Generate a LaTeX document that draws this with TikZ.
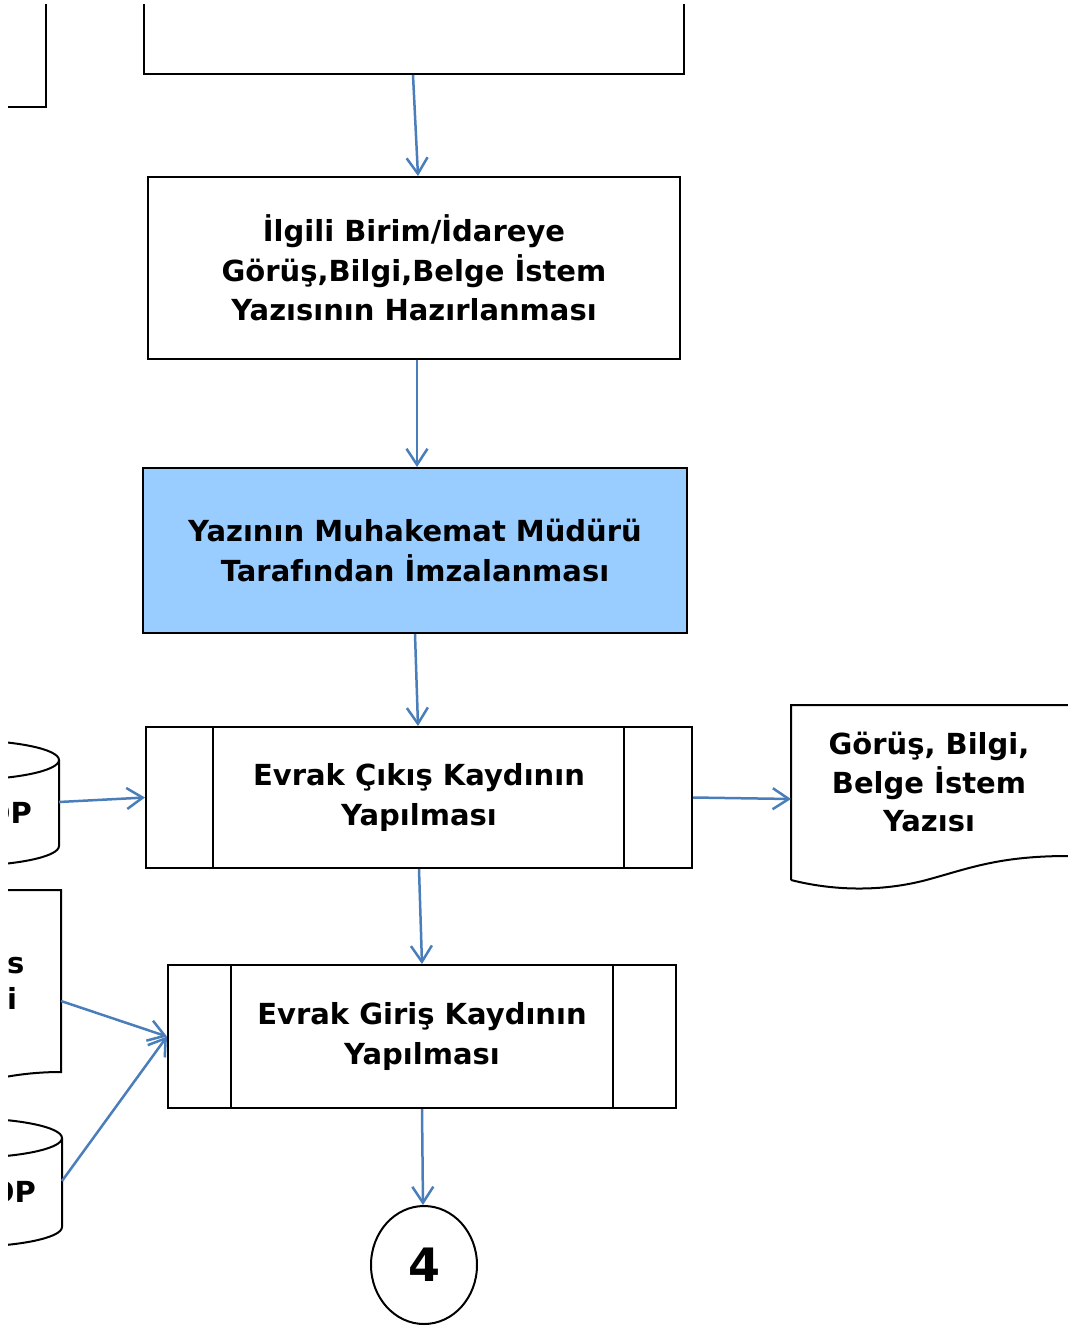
\documentclass[tikz,border=0pt]{standalone}
\usepackage{fontspec}
\setmainfont{DejaVu Sans}
\usetikzlibrary{arrows.meta,shapes.geometric,calc}
\definecolor{arrblue}{HTML}{4A7EBB}
\definecolor{boxblue}{HTML}{99CCFF}
\tikzset{
  box/.style={draw=black,line width=2pt,inner sep=0pt,align=center,
     font=\fontsize{29}{39.5}\selectfont\bfseries},
  arr/.style={draw=arrblue,line width=2.5pt,-{Straight Barb[length=16pt,width=21pt,line width=2.5pt]}},
  shp/.style={draw=black,line width=2pt},
  lbl/.style={inner sep=0pt,align=center,font=\fontsize{29}{38.5}\selectfont\bfseries}
}
\begin{document}
\begin{tikzpicture}[x=1pt,y=-1pt]
\useasboundingbox (0,0) rectangle (1068,1326);
\begin{scope}
\clip (8,4) rectangle (1068,1326);
% partial shapes at the edges
\draw[shp] (-100,-20) rectangle (46,107);
\node[box,minimum width=540pt,minimum height=100pt] (top) at (414,24) {};
% cylinder 1
\draw[shp] (-41,760) ellipse[x radius=100,y radius=20];
\draw[shp] (59,760) -- (59,846) arc[start angle=0,end angle=180,x radius=100,y radius=20];
\node[lbl,anchor=east] (cyl1) at (32,813) {OP};
\coordinate (cyl1r) at (59,802);
% document left
\draw[shp] (-100,890) -- (61,890) -- (61,1072) .. controls (40,1072) and (20,1074) .. (0,1078);
\node[lbl,anchor=west,align=left,font=\fontsize{29}{36}\selectfont\bfseries] (docl) at (7,983) {s\\i};
\coordinate (doclr) at (61,1001);
% cylinder 3
\draw[shp] (-38,1138) ellipse[x radius=100,y radius=20];
\draw[shp] (62,1138) -- (62,1227) arc[start angle=0,end angle=180,x radius=100,y radius=20];
\node[lbl,anchor=east] (cyl3) at (36,1192) {OP};
\coordinate (cyl3r) at (62,1181);
% document right
\draw[shp] (791,880) -- (791,705) -- (1080,705) -- (1080,856) -- (1068,856)
  .. controls (1000,856) and (970,868) .. (930,879)
  .. controls (880,893) and (830,890) .. (791,880);
\node[lbl] (docr) at (929,782) {Görüş, Bilgi,\\Belge İstem\\Yazısı};
\coordinate (docrl) at (791,799);
\end{scope}

\node[box,minimum width=532pt,minimum height=182pt] (b3) at (414,268)
  {İlgili Birim/İdareye\\Görüş,Bilgi,Belge İstem\\Yazısının Hazırlanması};
\node[box,fill=boxblue,minimum width=544pt,minimum height=165pt] (sign) at (415,550.5)
  {Yazının Muhakemat Müdürü\\Tarafından İmzalanması};
\node[box,minimum width=546pt,minimum height=141pt] (p1) at (419,797.5)
  {Evrak Çıkış Kaydının\\Yapılması};
\draw[shp] ([xshift=68pt]p1.north west) -- ([xshift=68pt]p1.south west);
\draw[shp] ([xshift=-69pt]p1.north east) -- ([xshift=-69pt]p1.south east);
\node[box,minimum width=508pt,minimum height=143pt] (p2) at (422,1036.5)
  {Evrak Giriş Kaydının\\Yapılması};
\draw[shp] ([xshift=64pt]p2.north west) -- ([xshift=64pt]p2.south west);
\draw[shp] ([xshift=-64pt]p2.north east) -- ([xshift=-64pt]p2.south east);
\node[draw=black,line width=2pt,ellipse,inner sep=0pt,minimum width=106pt,minimum height=118pt,
  font=\fontsize{46}{46}\selectfont\bfseries] (c4) at (424,1265) {4};

% connectors
\draw[arr] ([xshift=-1pt]top.south) -- ([xshift=4pt]b3.north);
\draw[arr] ([xshift=3pt]b3.south) -- ([xshift=2pt]sign.north);
\draw[arr] (sign.south) -- ([xshift=-1pt]p1.north);
\draw[arr] (p1.south) -- (p2.north);
\draw[arr] (p2.south) -- ([xshift=-1pt]c4.north);
\draw[arr] (cyl1r) -- (p1.west);
\draw[arr] (p1.east) -- (docrl);
\draw[arr] (doclr) -- (p2.west);
\draw[arr] (cyl3r) -- (p2.west);
\end{tikzpicture}
\end{document}
